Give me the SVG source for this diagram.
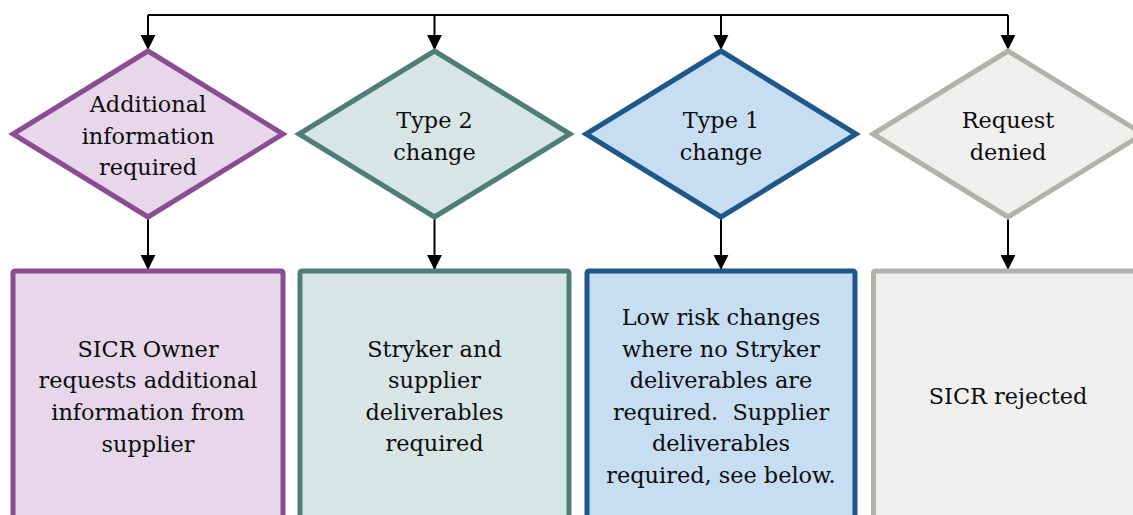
<svg xmlns="http://www.w3.org/2000/svg" width="1133" height="515" viewBox="0 0 1133 515">
<defs>
<marker id="ah" markerUnits="userSpaceOnUse" markerWidth="16" markerHeight="16" viewBox="0 0 16 16" refX="15" refY="8" orient="auto">
<path d="M0,0.6 L15,8 L0,15.4 Z" fill="#000"/>
</marker>
</defs>
<style>
.t{font-family:"DejaVu Serif","Liberation Serif",serif;font-size:22.4px;fill:#0d0d0d;text-anchor:middle;white-space:pre}
.d,.b{stroke-width:5;stroke-linejoin:miter}
.b{stroke-linejoin:round}
.p{fill:#E8D7EA;stroke:#8A4D91}
.g{fill:#D8E5E5;stroke:#4F7E79}
.u{fill:#C6DDF2;stroke:#1E578A}
.r{fill:#EFEFEE;stroke:#B1B2AB}
.c{fill:none;stroke:#000;stroke-width:2}
</style>
<g id="connectors">
<path class="c" d="M148,15 H1008"/>
<path class="c" d="M148,15 V50" marker-end="url(#ah)"/>
<path class="c" d="M434.5,15 V50" marker-end="url(#ah)"/>
<path class="c" d="M721,15 V50" marker-end="url(#ah)"/>
<path class="c" d="M1008,15 V50" marker-end="url(#ah)"/>
<path class="c" d="M148,218 V270" marker-end="url(#ah)"/>
<path class="c" d="M434.5,218 V270" marker-end="url(#ah)"/>
<path class="c" d="M721,218 V270" marker-end="url(#ah)"/>
<path class="c" d="M1008,218 V270" marker-end="url(#ah)"/>
</g>
<g id="d1">
<polygon class="d p" points="148,51 283,134 148,217 13,134"/>
<text class="t" x="148" y="112">Additional</text>
<text class="t" x="148" y="144">information</text>
<text class="t" x="148" y="175">required</text>
</g>
<g id="d2">
<polygon class="d g" points="434.5,51 570,134 434.5,217 299,134"/>
<text class="t" x="434.5" y="128">Type 2</text>
<text class="t" x="434.5" y="160">change</text>
</g>
<g id="d3">
<polygon class="d u" points="721,51 856,134 721,217 586,134"/>
<text class="t" x="721" y="128">Type 1</text>
<text class="t" x="721" y="160">change</text>
</g>
<g id="d4">
<polygon class="d r" points="1008,51 1143,134 1008,217 873,134"/>
<text class="t" x="1008" y="128">Request</text>
<text class="t" x="1008" y="160">denied</text>
</g>
<g id="b1">
<rect class="b p" x="13" y="271" width="270" height="260" rx="2"/>
<text class="t" x="148" y="357">SICR Owner</text>
<text class="t" x="148" y="388">requests additional</text>
<text class="t" x="148" y="420">information from</text>
<text class="t" x="148" y="452">supplier</text>
</g>
<g id="b2">
<rect class="b g" x="300" y="271" width="269" height="260" rx="2"/>
<text class="t" x="434.5" y="357">Stryker and</text>
<text class="t" x="434.5" y="388">supplier</text>
<text class="t" x="434.5" y="420">deliverables</text>
<text class="t" x="434.5" y="451">required</text>
</g>
<g id="b3">
<rect class="b u" x="587" y="271" width="268" height="260" rx="2"/>
<text class="t" x="721" y="325">Low risk changes</text>
<text class="t" x="721" y="357">where no Stryker</text>
<text class="t" x="721" y="388">deliverables are</text>
<text class="t" x="721" y="420">required.  Supplier</text>
<text class="t" x="721" y="451">deliverables</text>
<text class="t" x="721" y="483">required, see below.</text>
</g>
<g id="b4">
<rect class="b r" x="873.5" y="271" width="270" height="260" rx="2"/>
<text class="t" x="1008" y="404">SICR rejected</text>
</g>
</svg>
